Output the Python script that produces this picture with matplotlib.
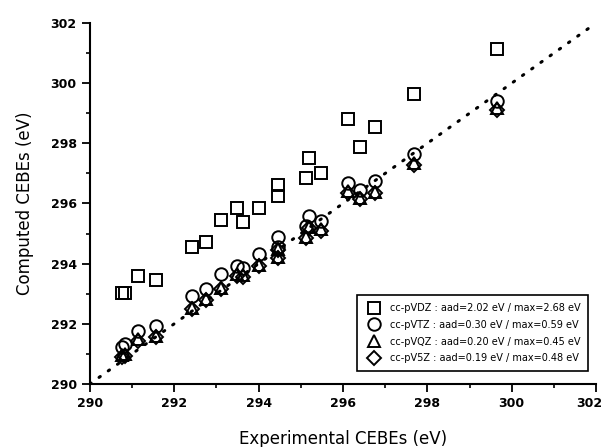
import matplotlib
matplotlib.use('Agg')
import matplotlib.pyplot as plt
from matplotlib.ticker import MultipleLocator

# experimental CEBEs (eV)
exp = [290.76, 290.83, 291.13, 291.56, 292.41, 292.76, 293.10, 293.50, 293.63, 294.00,
       294.46, 294.46, 295.13, 295.20, 295.49, 296.13, 296.40, 296.75, 297.68, 299.65]

# computed CEBEs (eV)
vdz = [293.03, 293.03, 293.60, 293.46, 294.54, 294.73, 295.45, 295.84, 295.40, 295.86,
       296.62, 296.25, 296.86, 297.50, 297.03, 298.80, 297.87, 298.53, 299.64, 301.13]
vtz = [291.24, 291.33, 291.76, 291.93, 292.93, 293.15, 293.66, 293.93, 293.85, 294.32,
       294.90, 294.57, 295.25, 295.58, 295.43, 296.69, 296.45, 296.76, 297.65, 299.42]
vqz = [290.95, 290.99, 291.49, 291.61, 292.53, 292.84, 293.20, 293.64, 293.62, 293.97,
       294.50, 294.23, 294.89, 295.23, 295.14, 296.40, 296.19, 296.39, 297.33, 299.16]
v5z = [290.89, 290.93, 291.44, 291.55, 292.48, 292.79, 293.15, 293.59, 293.57, 293.92,
       294.45, 294.18, 294.84, 295.18, 295.09, 296.34, 296.14, 296.34, 297.28, 299.11]

labels = ['cc-pVDZ : aad=2.02 eV / max=2.68 eV',
          'cc-pVTZ : aad=0.30 eV / max=0.59 eV',
          'cc-pVQZ : aad=0.20 eV / max=0.45 eV',
          'cc-pV5Z : aad=0.19 eV / max=0.48 eV']
markers = ['s', 'o', '^', 'D']
sizes = [9, 9, 8, 7.5]

xticks = [290, 292, 294, 296, 298, 300, 302]
yticks = [290, 292, 294, 296, 298, 300, 302]

fig = plt.figure(figsize=(6.07, 4.47), dpi=100)
ax = fig.add_axes([0.148, 0.141, 0.834, 0.8075])

ax.plot([290, 302], [290, 302], linestyle=(0, (0.5, 3.2)), color='black', lw=2.2,
        dash_capstyle='round')

for ys, m, s, l in zip([vdz, vtz, vqz, v5z], markers, sizes, labels):
    ax.plot(exp, ys, linestyle='none', marker=m, markersize=s, markerfacecolor='none',
            markeredgecolor='black', markeredgewidth=1.4, label=l)

ax.set_xlim(290, 302)
ax.set_ylim(290, 302)
ax.set_xticks(xticks)
# last x label drawn separately so it stays inside the figure
ax.set_xticklabels([str(t) for t in xticks[:-1]] + [''], fontweight='bold')
ax.set_yticks(yticks)
ax.set_yticklabels([str(t) for t in yticks], fontweight='bold')
ax.xaxis.set_minor_locator(MultipleLocator(1))
ax.yaxis.set_minor_locator(MultipleLocator(1))
ax.spines['top'].set_visible(False)
ax.spines['right'].set_visible(False)
for sp in ['left', 'bottom']:
    ax.spines[sp].set_linewidth(1.5)
ax.tick_params(which='major', direction='out', length=6, width=1.3, labelsize=9)
ax.tick_params(which='minor', direction='out', length=3, width=1.2)
ax.annotate(str(xticks[-1]), xy=(xticks[-1], 0), xycoords=('data', 'axes fraction'),
            xytext=(-5, -9.5), textcoords='offset points', ha='center', va='top',
            fontsize=9, fontweight='bold')

ax.set_xlabel('Experimental CEBEs (eV)', fontsize=12, labelpad=14)
ax.set_ylabel('Computed CEBEs (eV)', fontsize=12, labelpad=12)

leg = ax.legend(loc='lower right', bbox_to_anchor=(0.994, 0.022), fontsize=7,
                fancybox=False, edgecolor='black', framealpha=1, handletextpad=0.6,
                labelspacing=0.7, borderpad=0.8, numpoints=1)
leg.get_frame().set_linewidth(1.2)

fig.savefig('out.png', dpi=100)
